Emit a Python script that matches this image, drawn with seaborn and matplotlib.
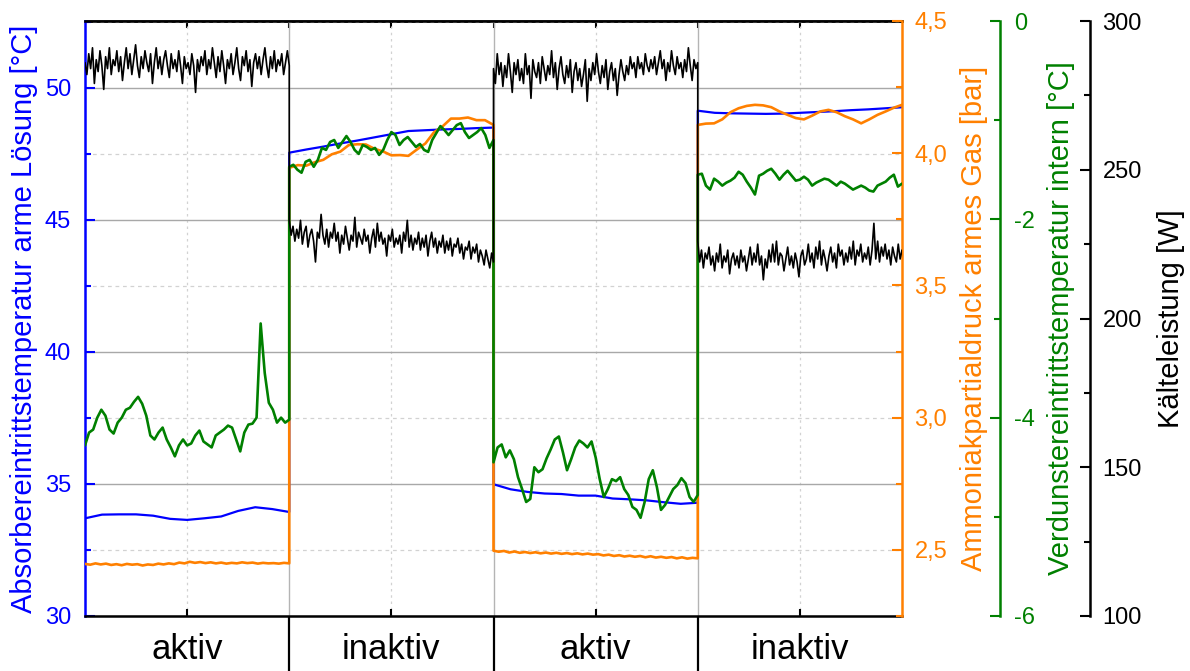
import numpy as np
import pandas as pd
import matplotlib
matplotlib.use("Agg")
import matplotlib.pyplot as plt
from matplotlib.ticker import MultipleLocator, FuncFormatter
import seaborn as sns

# ---------------- data ----------------
phases = ["aktiv", "inaktiv", "aktiv", "inaktiv"]

# Absorbereintrittstemperatur arme Lösung [°C] (blue, left axis)
blue_1 = [33.70, 33.84, 33.85, 33.85, 33.80, 33.68, 33.64, 33.70, 33.77, 33.98, 34.12, 34.05, 33.94]
blue_2 = [47.55, 47.67, 47.78, 47.90, 48.01, 48.13, 48.25, 48.37, 48.40, 48.43, 48.45, 48.48, 48.50]
blue_3 = [34.99, 34.80, 34.70, 34.64, 34.62, 34.56, 34.56, 34.45, 34.42, 34.38, 34.31, 34.25, 34.29]
blue_4 = [49.14, 49.06, 49.04, 49.03, 49.02, 49.03, 49.06, 49.09, 49.12, 49.16, 49.19, 49.23, 49.27]

# Ammoniakpartialdruck armes Gas [bar] (orange)
orange_1 = [2.447, 2.444, 2.449, 2.445, 2.448, 2.443, 2.446, 2.442, 2.447, 2.444,
            2.446, 2.441, 2.445, 2.443, 2.448, 2.445, 2.449, 2.446, 2.452, 2.449,
            2.455, 2.451, 2.454, 2.450, 2.453, 2.449, 2.452, 2.448, 2.451, 2.449,
            2.453, 2.450, 2.452, 2.448, 2.451, 2.449, 2.450, 2.448, 2.451, 2.449]
orange_2 = [3.945, 3.955, 3.953, 3.966, 3.975, 3.996, 4.006, 4.031, 4.034, 4.033,
            4.017, 4.007, 3.992, 3.993, 3.990, 4.014, 4.037, 4.079, 4.101, 4.131,
            4.131, 4.135, 4.125, 4.125, 4.107]
orange_3 = [2.497, 2.493, 2.496, 2.490, 2.494, 2.489, 2.492, 2.488, 2.491, 2.487,
            2.490, 2.486, 2.489, 2.485, 2.488, 2.484, 2.487, 2.483, 2.486, 2.482,
            2.484, 2.479, 2.482, 2.477, 2.480, 2.475, 2.478, 2.474, 2.477, 2.472,
            2.476, 2.471, 2.474, 2.470, 2.473, 2.468, 2.472, 2.467, 2.470, 2.468]
orange_4 = [4.107, 4.112, 4.113, 4.128, 4.155, 4.170, 4.179, 4.183, 4.181, 4.174,
            4.158, 4.145, 4.133, 4.128, 4.142, 4.158, 4.164, 4.155, 4.140, 4.128,
            4.113, 4.128, 4.145, 4.158, 4.172, 4.183]

# Verdunstereintrittstemperatur intern [°C] (green)
green_1 = [-4.28, -4.15, -4.12, -4.00, -3.92, -3.98, -4.12, -4.16, -4.05, -4.00,
           -3.92, -3.90, -3.84, -3.79, -3.86, -3.98, -4.18, -4.22, -4.15, -4.10,
           -4.22, -4.30, -4.39, -4.28, -4.22, -4.28, -4.26, -4.18, -4.13, -4.24,
           -4.27, -4.30, -4.18, -4.15, -4.12, -4.08, -4.10, -4.22, -4.34, -4.15,
           -4.07, -4.06, -4.00, -3.05, -3.55, -3.85, -3.92, -4.05, -4.00, -4.05, -4.02]
green_2 = [-1.47, -1.45, -1.50, -1.53, -1.42, -1.40, -1.47, -1.40, -1.28, -1.30,
           -1.22, -1.20, -1.28, -1.22, -1.16, -1.22, -1.30, -1.34, -1.25, -1.27,
           -1.30, -1.28, -1.35, -1.30, -1.20, -1.12, -1.15, -1.25, -1.20, -1.17,
           -1.22, -1.27, -1.24, -1.30, -1.32, -1.20, -1.13, -1.06, -1.10, -1.15,
           -1.10, -1.05, -1.03, -1.12, -1.18, -1.15, -1.12, -1.08, -1.15, -1.28, -1.20]
green_3 = [-4.45, -4.30, -4.27, -4.40, -4.33, -4.42, -4.60, -4.72, -4.85, -4.82,
           -4.50, -4.55, -4.52, -4.41, -4.32, -4.22, -4.19, -4.35, -4.53, -4.42,
           -4.30, -4.23, -4.26, -4.30, -4.24, -4.40, -4.62, -4.80, -4.72, -4.62,
           -4.64, -4.60, -4.72, -4.78, -4.90, -4.93, -5.01, -4.85, -4.62, -4.53,
           -4.70, -4.93, -4.88, -4.80, -4.72, -4.68, -4.61, -4.66, -4.80, -4.85, -4.78]
green_4 = [-1.55, -1.54, -1.66, -1.70, -1.59, -1.62, -1.66, -1.63, -1.61, -1.58,
           -1.52, -1.55, -1.62, -1.68, -1.75, -1.56, -1.54, -1.51, -1.49, -1.54,
           -1.60, -1.55, -1.51, -1.56, -1.61, -1.60, -1.57, -1.60, -1.66, -1.63,
           -1.61, -1.59, -1.60, -1.63, -1.66, -1.62, -1.64, -1.67, -1.70, -1.68,
           -1.66, -1.68, -1.71, -1.72, -1.66, -1.64, -1.62, -1.58, -1.55, -1.67, -1.64]

# Kälteleistung [W] (black)
black_1 = [286, 282, 289, 284, 291, 279, 287, 283, 290, 285,
           277, 288, 284, 291, 282, 287, 285, 290, 283, 288,
           280, 286, 291, 284, 289, 282, 287, 292, 285, 281,
           288, 284, 290, 286, 283, 289, 279, 286, 291, 284,
           288, 282, 287, 290, 285, 281, 289, 284, 287, 283,
           290, 285, 279, 288, 284, 286, 282, 289, 285, 276,
           287, 283, 288, 285, 290, 282, 287, 284, 291, 286,
           281, 288, 283, 290, 285, 279, 287, 284, 289, 282,
           286, 291, 284, 280, 288, 285, 290, 283, 287, 278,
           286, 289, 284, 288, 282, 287, 291, 285, 281, 288,
           284, 290, 283, 287, 285, 289, 282, 286, 290, 285]
black_2 = [233, 228, 231, 226, 230, 227, 233, 225, 229, 231,
           224, 228, 230, 226, 219, 229, 227, 235, 228, 225,
           230, 224, 229, 227, 232, 226, 229, 222, 228, 225,
           231, 227, 223, 228, 226, 234, 224, 229, 227, 225,
           230, 226, 228, 222, 227, 230, 224, 232, 226, 229,
           225, 227, 221, 228, 226, 230, 224, 227, 225, 228,
           222, 229, 226, 233, 224, 228, 223, 227, 225, 229,
           223, 227, 224, 228, 221, 226, 229, 224, 227, 222,
           226, 224, 228, 222, 226, 223, 227, 221, 225, 224,
           227, 222, 225, 220, 224, 223, 226, 220, 224, 222,
           225, 219, 223, 221, 218, 223, 220, 217, 222, 219]
black_3 = [284, 279, 289, 282, 286, 278, 285, 281, 289, 283,
           276, 286, 282, 287, 280, 284, 279, 289, 282, 285,
           274, 287, 283, 281, 286, 279, 288, 284, 280, 285,
           282, 290, 281, 286, 277, 284, 288, 282, 279, 285,
           281, 287, 276, 283, 286, 280, 284, 278, 282, 287,
           273, 284, 280, 286, 282, 289, 283, 279, 285, 281,
           287, 277, 283, 286, 280, 284, 275, 282, 287, 283,
           280, 285, 282, 288, 284, 286, 281, 288, 284, 286,
           282, 289, 285, 283, 287, 284, 288, 282, 286, 290,
           284, 287, 280, 286, 283, 290, 285, 282, 288, 284,
           286, 281, 287, 283, 291, 285, 280, 287, 284, 286]
black_4 = [226, 219, 223, 217, 222, 220, 224, 218, 221, 216,
           222, 219, 225, 217, 221, 219, 223, 215, 220, 222,
           218, 221, 217, 223, 219, 221, 216, 220, 224, 218,
           222, 219, 225, 218, 221, 213, 220, 217, 223, 219,
           225, 219, 226, 218, 222, 221, 216, 220, 224, 218,
           221, 217, 222, 219, 214, 221, 223, 218, 220, 225,
           219, 222, 217, 224, 220, 226, 218, 223, 220, 216,
           221, 224, 219, 222, 217, 225, 221, 223, 218, 222,
           219, 224, 220, 226, 218, 223, 221, 225, 219, 222,
           220, 224, 218, 223, 232, 220, 226, 219, 224, 221,
           225, 220, 223, 218, 224, 221, 219, 225, 220, 223]

# ---------------- helpers ----------------
def frame(segments):
    xs, ys = [], []
    for i, seg in enumerate(segments):
        xs.extend(np.linspace(i, i + 1, len(seg)))
        ys.extend(seg)
    return pd.DataFrame({"t": xs, "v": ys})

df_blue = frame([blue_1, blue_2, blue_3, blue_4])
df_orange = frame([orange_1, orange_2, orange_3, orange_4])
df_green = frame([green_1, green_2, green_3, green_4])
df_black = frame([black_1, black_2, black_3, black_4])

# ---------------- styling ----------------
sns.set_style("white")
plt.rcParams["font.family"] = ["Liberation Sans", "DejaVu Sans"]
plt.rcParams["axes.unicode_minus"] = False
plt.rcParams["text.color"] = "black"
plt.rcParams["axes.labelcolor"] = "black"
plt.rcParams["xtick.color"] = "black"
plt.rcParams["ytick.color"] = "black"

C_BLUE = "#0000FF"
C_ORANGE = "#FF8000"
C_GREEN = "#008000"
C_BLACK = "#000000"

TICK_FS = 17
LABEL_FS = 21

fig = plt.figure(figsize=(11.9, 6.71), dpi=100)
ax = fig.add_axes([85 / 1190, 55 / 671, 817 / 1190, 595 / 671])
ax_o = ax.twinx()
ax_g = ax.twinx()
ax_k = ax.twinx()

sns.lineplot(data=df_blue, x="t", y="v", ax=ax, color=C_BLUE, lw=1.6,
             estimator=None, sort=False)
sns.lineplot(data=df_orange, x="t", y="v", ax=ax_o, color=C_ORANGE, lw=1.9,
             estimator=None, sort=False)
sns.lineplot(data=df_green, x="t", y="v", ax=ax_g, color=C_GREEN, lw=1.9,
             estimator=None, sort=False)
sns.lineplot(data=df_black, x="t", y="v", ax=ax_k, color=C_BLACK, lw=1.2,
             estimator=None, sort=False)

# x axis: phase boundaries as major ticks, phase names at minor ticks
ax.set_xlim(0, 4)
ax.set_xticks([1, 2, 3])
ax.set_xticklabels([])
ax.set_xticks([0.5, 1.5, 2.5, 3.5], minor=True)
ax.set_xticklabels(phases, minor=True, fontsize=25, color="black")
ax.tick_params(axis="x", which="major", direction="out", length=40, width=1.6,
               color="black", bottom=True)
ax.tick_params(axis="x", which="minor", direction="in", length=5, width=1.5,
               color="black", pad=12, bottom=True)
ax.set_xlabel("")

sec = ax.secondary_xaxis("top")
sec.set_xticks([1, 2, 3])
sec.set_xticks([0.5, 1.5, 2.5, 3.5], minor=True)
sec.tick_params(which="both", direction="in", length=5, width=1.5,
                color="black", labeltop=False, labelbottom=False)
sec.spines["top"].set_linewidth(1.8)
sec.spines["top"].set_color("black")

# left axis (blue)
ax.set_ylim(30, 30 + 595 / 528 * 20)
ax.yaxis.set_major_locator(MultipleLocator(5))
ax.yaxis.set_minor_locator(MultipleLocator(2.5))
ax.tick_params(axis="y", which="major", direction="in", length=7, width=1.5,
               colors=C_BLUE, labelsize=TICK_FS, pad=10, left=True)
ax.tick_params(axis="y", which="minor", direction="in", length=4, width=1.5,
               colors=C_BLUE, left=True)
ax.set_ylabel("Absorbereintrittstemperatur arme Lösung [°C]", color=C_BLUE,
              fontsize=LABEL_FS)
ax.yaxis.set_label_coords(-0.058, 0.5)

ax.grid(which="major", axis="y", color="#a8a8a8", lw=1.0, ls="-")
ax.grid(which="minor", axis="y", color="#d2d2d2", lw=0.9, ls=(0, (3, 3)))
ax.grid(which="major", axis="x", color="#b4b4b4", lw=1.0, ls="-")
ax.grid(which="minor", axis="x", color="#d2d2d2", lw=0.9, ls=(0, (2, 3)))

ax.spines["left"].set_color(C_BLUE)
ax.spines["left"].set_linewidth(1.8)
for s in ["bottom", "top"]:
    ax.spines[s].set_color("black")
    ax.spines[s].set_linewidth(1.8)
ax.spines["right"].set_visible(False)

# orange axis
ax_o.set_ylim(2.25, 4.5)
ax_o.yaxis.set_major_locator(MultipleLocator(0.5))
ax_o.yaxis.set_minor_locator(MultipleLocator(0.25))
ax_o.yaxis.set_major_formatter(FuncFormatter(lambda v, p: f"{v:.1f}".replace(".", ",")))
ax_o.tick_params(axis="y", which="major", direction="in", length=7, width=1.5,
                 colors=C_ORANGE, labelsize=TICK_FS, pad=9)
ax_o.tick_params(axis="y", which="minor", direction="in", length=4, width=1.5,
                 colors=C_ORANGE)
ax_o.set_ylabel("Ammoniakpartialdruck armes Gas [bar]", color=C_ORANGE,
                fontsize=LABEL_FS)
ax_o.yaxis.set_label_coords(875 / 817, 0.5)

# green axis
ax_g.spines["right"].set_position(("axes", (1000 - 85) / 817))
ax_g.set_ylim(-6, 0)
ax_g.yaxis.set_major_locator(MultipleLocator(2))
ax_g.yaxis.set_minor_locator(MultipleLocator(1))
ax_g.tick_params(axis="y", which="major", direction="in", length=7, width=1.5,
                 colors=C_GREEN, labelsize=TICK_FS, pad=10)
ax_g.tick_params(axis="y", which="minor", direction="in", length=4, width=1.5,
                 colors=C_GREEN)
ax_g.set_ylabel("Verdunstereintrittstemperatur intern [°C]", color=C_GREEN,
                fontsize=LABEL_FS)
ax_g.yaxis.set_label_coords((1047 - 85) / 817, 0.5)

# black axis
ax_k.spines["right"].set_position(("axes", (1090 - 85) / 817))
ax_k.set_ylim(100, 300)
ax_k.yaxis.set_major_locator(MultipleLocator(50))
ax_k.yaxis.set_minor_locator(MultipleLocator(25))
ax_k.tick_params(axis="y", which="major", direction="in", length=7, width=1.5,
                 colors=C_BLACK, labelsize=TICK_FS, pad=9)
ax_k.tick_params(axis="y", which="minor", direction="in", length=4, width=1.5,
                 colors=C_BLACK)
ax_k.set_ylabel("Kälteleistung [W]", color=C_BLACK, fontsize=LABEL_FS)
ax_k.yaxis.set_label_coords((1157 - 85) / 817, 0.5)

for a, c in [(ax_o, C_ORANGE), (ax_g, C_GREEN), (ax_k, C_BLACK)]:
    a.set_xlabel("")
    for s in ["left", "top", "bottom"]:
        a.spines[s].set_visible(False)
    a.spines["right"].set_visible(True)
    a.spines["right"].set_color(c)
    a.spines["right"].set_linewidth(1.8)
    a.grid(False)

fig.savefig("out.png", dpi=100)
